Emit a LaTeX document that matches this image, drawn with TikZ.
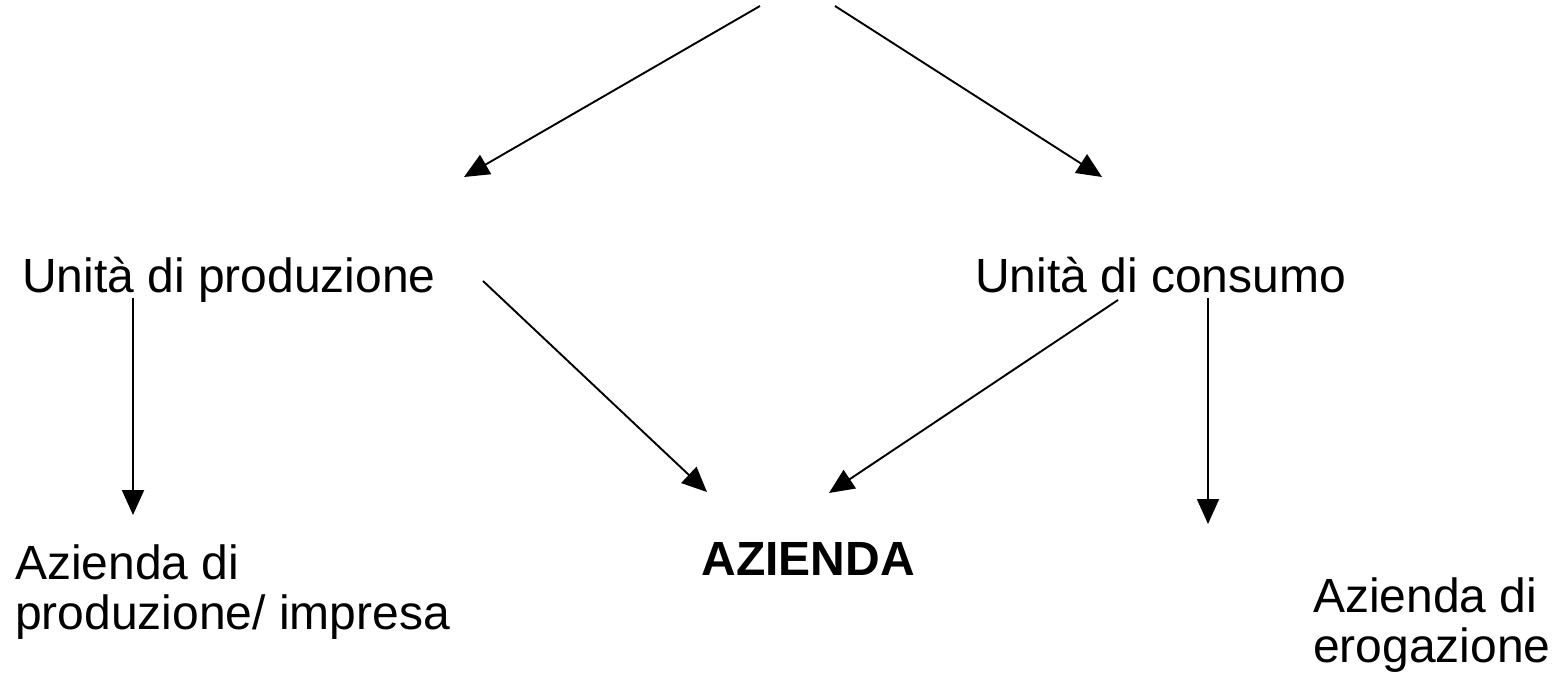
\documentclass[tikz,border=0pt]{standalone}
\usepackage{fontspec}
\setmainfont{Liberation Sans}
\usetikzlibrary{arrows.meta}
\tikzset{
  label text/.style={inner sep=0pt, font=\fontsize{48}{50}\selectfont, align=left},
  link/.style={line width=1.9pt, -{Triangle[length=25pt,width=22pt]}},
}
\begin{document}
\begin{tikzpicture}[x=1pt,y=-1pt]
\useasboundingbox (0,0) rectangle (1555,677);

% text nodes
\node[label text, anchor=base west] (prod) at (22,292) {Unità di produzione};
\node[label text, anchor=base west] (cons) at (975,292) {Unità di consumo};
\node[label text, anchor=base, font=\fontsize{48}{50}\selectfont\bfseries] (az) at (808,575) {AZIENDA};
\node[label text, anchor=north west] (impresa) at (15,545) {Azienda di\\produzione/ impresa};
\node[label text, anchor=north west] (erog) at (1313,578) {Azienda di\\erogazione};

% connector end points
\coordinate (topL) at (760,6);
\coordinate (topR) at (835,6);
\coordinate (prodIn) at (464,177);
\coordinate (consIn) at (1102,177);
\coordinate (prodOutA) at (483,281);
\coordinate (prodOutB) at (133,298);
\coordinate (consOutA) at (1118,300);
\coordinate (consOutB) at (1208,298);
\coordinate (azInL) at (707,492);
\coordinate (azInR) at (829,493);
\coordinate (impIn) at (133,515);
\coordinate (erogIn) at (1208,524);

% arrows
\draw[link] (topL) -- (prodIn);
\draw[link] (topR) -- (consIn);
\draw[link] (prodOutA) -- (azInL);
\draw[link] (consOutA) -- (azInR);
\draw[link] (prodOutB) -- (impIn);
\draw[link] (consOutB) -- (erogIn);
\end{tikzpicture}
\end{document}
